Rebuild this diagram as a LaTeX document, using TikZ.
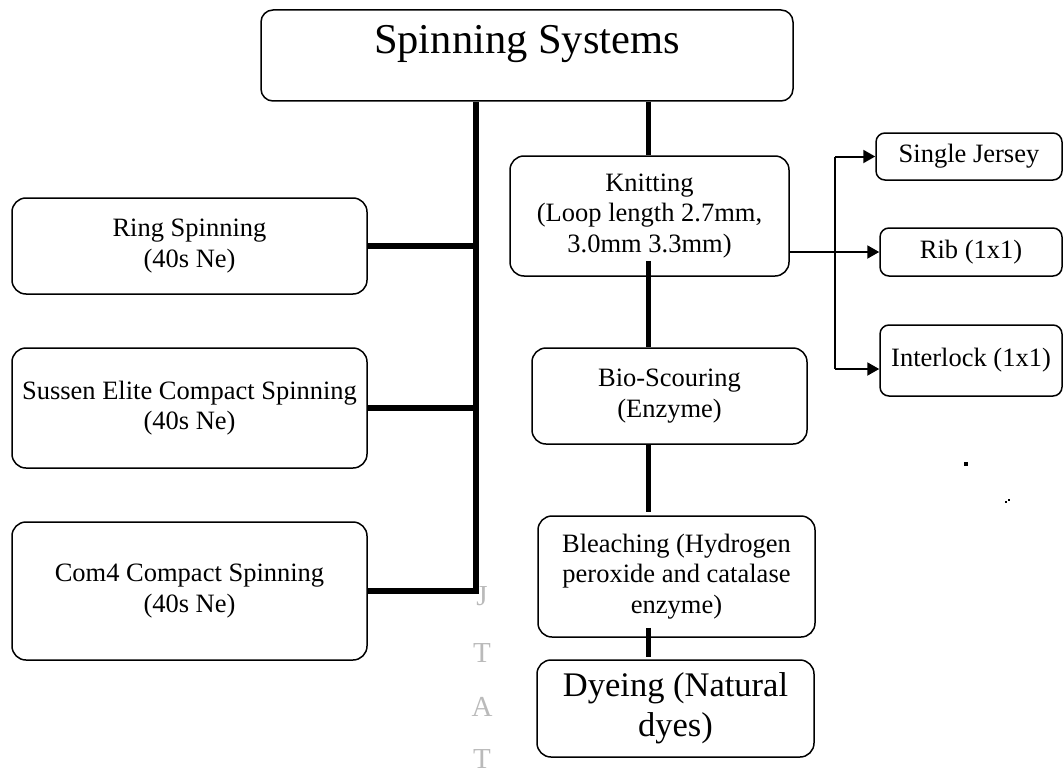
\documentclass[tikz,border=0pt]{standalone}
\usepackage{fontspec}
\setmainfont{Liberation Serif}
\usetikzlibrary{arrows.meta}
\begin{document}
\begin{tikzpicture}[x=1pt,y=-1pt,
  box/.style={draw, line width=1.5pt, rounded corners=14pt, align=center, inner sep=0pt,
    font=\fontsize{26.5pt}{30.5pt}\selectfont},
  smallbox/.style={box, rounded corners=9pt},
  thk/.style={line width=5.5pt},
  arr/.style={line width=2pt, -{Triangle[length=12pt,width=13pt]}},
  thn/.style={line width=2pt},
  wm/.style={text=black!27, font=\fontsize{29pt}{32pt}\selectfont, inner sep=0pt},
  speck/.style={fill=black}]
\useasboundingbox (0,0) rectangle (1064,773);

% boxes
\node[box, rounded corners=12pt, minimum width=532pt, minimum height=91pt,
  font=\fontsize{42.5pt}{48pt}\selectfont, text height=29pt, text depth=32pt]
  (top) at (527,55.5) {Spinning Systems};

\node[box, minimum width=355pt, minimum height=96pt] (ring) at (189.5,246) {Ring Spinning\\(40s Ne)};
\node[box, minimum width=355pt, minimum height=120pt] (sussen) at (189.5,408) {Sussen Elite Compact Spinning\\(40s Ne)};
\node[box, minimum width=355pt, minimum height=138pt] (com4) at (189.5,591) {Com4 Compact Spinning\\(40s Ne)};

\node[box, minimum width=279pt, minimum height=120pt] (knit) at (649.5,216) {Knitting\\(Loop length 2.7mm,\\3.0mm 3.3mm)};
\node[box, minimum width=275pt, minimum height=96pt] (bio) at (669.5,396) {Bio-Scouring\\(Enzyme)};
\node[box, minimum width=277pt, minimum height=121pt] (bleach) at (676.5,576.5) {Bleaching (Hydrogen\\peroxide and catalase\\enzyme)};
\node[box, minimum width=277pt, minimum height=97pt, font=\fontsize{34.5pt}{40pt}\selectfont] (dye) at (675.5,708.5) {Dyeing (Natural\\dyes)};

\node[smallbox, minimum width=186pt, minimum height=47pt] (sj) at (969,156.5) {Single Jersey};
\node[smallbox, minimum width=182pt, minimum height=48pt] (rib) at (971,252) {Rib (1x1)};
\node[smallbox, minimum width=182pt, minimum height=71pt] (il) at (971,360.5) {Interlock (1x1)};

% left spine
\coordinate (sx) at (476,0);
\draw[thk, line join=miter] (top.south -| sx) -- (sx |- com4.east) -- (com4.east);
\draw[thk] (ring.east) -- (ring.east -| sx);
\draw[thk] (sussen.east) -- (sussen.east -| sx);

% right process chain
\coordinate (rx) at (648.5,0);
\coordinate (k1) at ([yshift=16pt]knit.south);
\coordinate (b1) at ([yshift=3pt]bleach.north);
\coordinate (b2) at ([yshift=10pt]bleach.south);
\coordinate (d1) at ([yshift=2pt]dye.north);
\draw[thk] (top.south -| rx) -- (knit.north -| rx);
\draw[thk] (k1 -| rx) -- (bio.north -| rx);
\draw[thk] (bio.south -| rx) -- (b1 -| rx);
\draw[thk] (b2 -| rx) -- (d1 -| rx);

% knitting branches
\coordinate (bt) at (835,156.5);
\coordinate (bb) at (835,369);
\draw[thn] (bt) -- (bb);
\draw[arr] (knit.east |- rib.west) -- (rib.west);
\draw[arr] (bt) -- (sj.west);
\draw[arr] (bb) -- (bb -| il.west);

% faint watermark letters
\node[wm] (w1) at (482,596) {J};
\node[wm] (w2) at (482,653) {T};
\node[wm] (w3) at (482,707) {A};
\node[wm] (w4) at (482,759) {T};

% tiny specks
\fill[speck] (964,462) rectangle (968,466);
\fill[speck] (1005,501) rectangle (1007,503);
\fill[speck] (1008,499) rectangle (1009.5,500.5);
\end{tikzpicture}
\end{document}
